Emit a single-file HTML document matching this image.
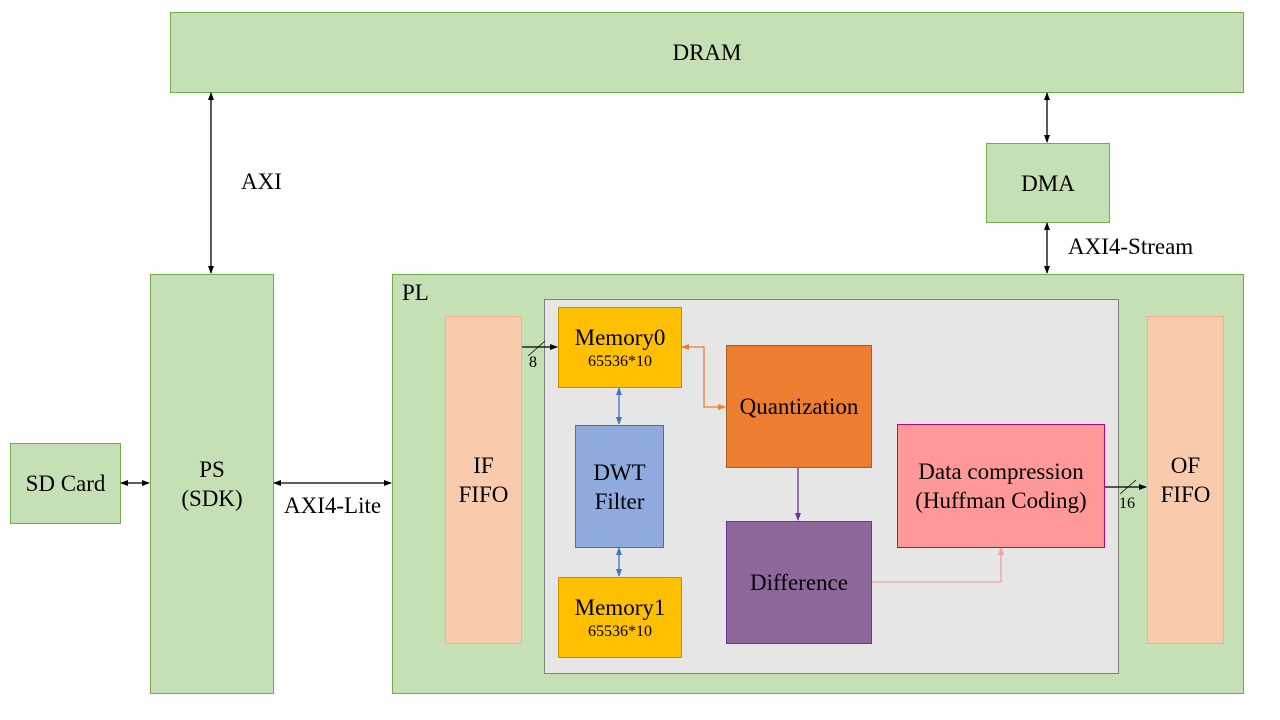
<!DOCTYPE html>
<html><head><meta charset="utf-8"><style>
body{margin:0;width:1280px;height:720px;background:#fff;position:relative;overflow:hidden;font-family:"Liberation Serif",serif;color:#000}
.b{position:absolute;box-sizing:border-box;display:flex;align-items:center;justify-content:center;text-align:center;font-size:23px;line-height:29px}
.g{background:#c5e0b4;border:1px solid #70ad47}
.t{position:absolute;font-size:23px;white-space:nowrap}
small{font-size:16px;line-height:20px}
svg{position:absolute;left:0;top:0}
</style></head><body>
<div class="b g" style="left:170px;top:12px;width:1074px;height:81px">DRAM</div>
<div class="b g" style="left:150px;top:274px;width:124px;height:420px">PS<br>(SDK)</div>
<div class="b g" style="left:10px;top:443px;width:111px;height:81px">SD Card</div>
<div class="b g" style="left:986px;top:143px;width:124px;height:80px">DMA</div>
<div class="b g" style="left:392px;top:274px;width:852px;height:420px"></div>
<div class="t" style="left:402px;top:280px">PL</div>
<div class="b" style="left:544px;top:299px;width:575px;height:375px;background:#e6e6e6;border:1px solid #808080"></div>
<div class="b" style="left:445px;top:316px;width:77px;height:328px;background:#f8cbad;border:1px solid #f4b183">IF<br>FIFO</div>
<div class="b" style="left:1147px;top:316px;width:77px;height:328px;background:#f8cbad;border:1px solid #f4b183">OF<br>FIFO</div>
<div class="b" style="left:558px;top:307px;width:124px;height:81px;background:#ffc000;border:1px solid #c09000;flex-direction:column"><span>Memory0</span><small>65536*10</small></div>
<div class="b" style="left:575px;top:425px;width:89px;height:123px;background:#8faadc;border:1px solid #548235">DWT<br>Filter</div>
<div class="b" style="left:558px;top:577px;width:124px;height:81px;background:#ffc000;border:1px solid #c09000;flex-direction:column"><span>Memory1</span><small>65536*10</small></div>
<div class="b" style="left:726px;top:345px;width:146px;height:123px;background:#ed7d31;border:1px solid #ae5a21">Quantization</div>
<div class="b" style="left:726px;top:521px;width:146px;height:123px;background:#8e689a;border:1px solid #7030a0">Difference</div>
<div class="b" style="left:897px;top:424px;width:208px;height:124px;background:#ff9999;border:1px solid #c00080">Data compression<br>(Huffman Coding)</div>
<div class="t" style="left:241px;top:169px">AXI</div>
<div class="t" style="left:1068px;top:234px">AXI4-Stream</div>
<div class="t" style="left:284px;top:493px">AXI4-Lite</div>
<div class="t" style="left:529px;top:354px;font-size:16px">8</div>
<div class="t" style="left:1119px;top:495px;font-size:16px">16</div>
<svg width="1280" height="720">
<defs>
<marker id="k" markerWidth="8" markerHeight="8" refX="7" refY="4" orient="auto-start-reverse" markerUnits="userSpaceOnUse"><path d="M0,1L8,4L0,7z" fill="#000"/></marker>
<marker id="bl" markerWidth="8" markerHeight="8" refX="7" refY="4" orient="auto-start-reverse" markerUnits="userSpaceOnUse"><path d="M0,1L8,4L0,7z" fill="#4472c4"/></marker>
<marker id="o" markerWidth="8" markerHeight="8" refX="7" refY="4" orient="auto-start-reverse" markerUnits="userSpaceOnUse"><path d="M0,1L8,4L0,7z" fill="#ed7d31"/></marker>
<marker id="p" markerWidth="8" markerHeight="8" refX="7" refY="4" orient="auto-start-reverse" markerUnits="userSpaceOnUse"><path d="M0,1L8,4L0,7z" fill="#7030a0"/></marker>
<marker id="pk" markerWidth="8" markerHeight="8" refX="7" refY="4" orient="auto-start-reverse" markerUnits="userSpaceOnUse"><path d="M0,1L8,4L0,7z" fill="#f4a0a0"/></marker>
</defs>
<g stroke="#000" stroke-width="1.3" fill="none">
<line x1="211" y1="93" x2="211" y2="273" marker-start="url(#k)" marker-end="url(#k)"/>
<line x1="1047" y1="93" x2="1047" y2="142" marker-start="url(#k)" marker-end="url(#k)"/>
<line x1="1047" y1="223" x2="1047" y2="273" marker-start="url(#k)" marker-end="url(#k)"/>
<line x1="121" y1="483" x2="149" y2="483" marker-start="url(#k)" marker-end="url(#k)"/>
<line x1="274" y1="483" x2="391" y2="483" marker-start="url(#k)" marker-end="url(#k)"/>
<line x1="522" y1="347" x2="557" y2="347" marker-end="url(#k)"/>
<line x1="528" y1="356" x2="545" y2="341" stroke-width="0.8"/>
<line x1="1105" y1="487" x2="1146" y2="487" marker-end="url(#k)"/>
<line x1="1120" y1="494" x2="1136" y2="480" stroke-width="0.8"/>
</g>
<polyline points="682,347 704,347 704,407 725,407" fill="none" stroke="#ed7d31" stroke-width="1.3" marker-start="url(#o)" marker-end="url(#o)"/>
<line x1="619" y1="388" x2="619" y2="424" stroke="#4472c4" stroke-width="1.3" marker-start="url(#bl)" marker-end="url(#bl)"/>
<line x1="619" y1="548" x2="619" y2="576" stroke="#4472c4" stroke-width="1.3" marker-start="url(#bl)" marker-end="url(#bl)"/>
<line x1="798" y1="468" x2="798" y2="520" stroke="#7030a0" stroke-width="1.3" marker-end="url(#p)"/>
<polyline points="872,582 1001,582 1001,548" fill="none" stroke="#f4a0a0" stroke-width="1.3" marker-end="url(#pk)"/>
</svg>
</body></html>
